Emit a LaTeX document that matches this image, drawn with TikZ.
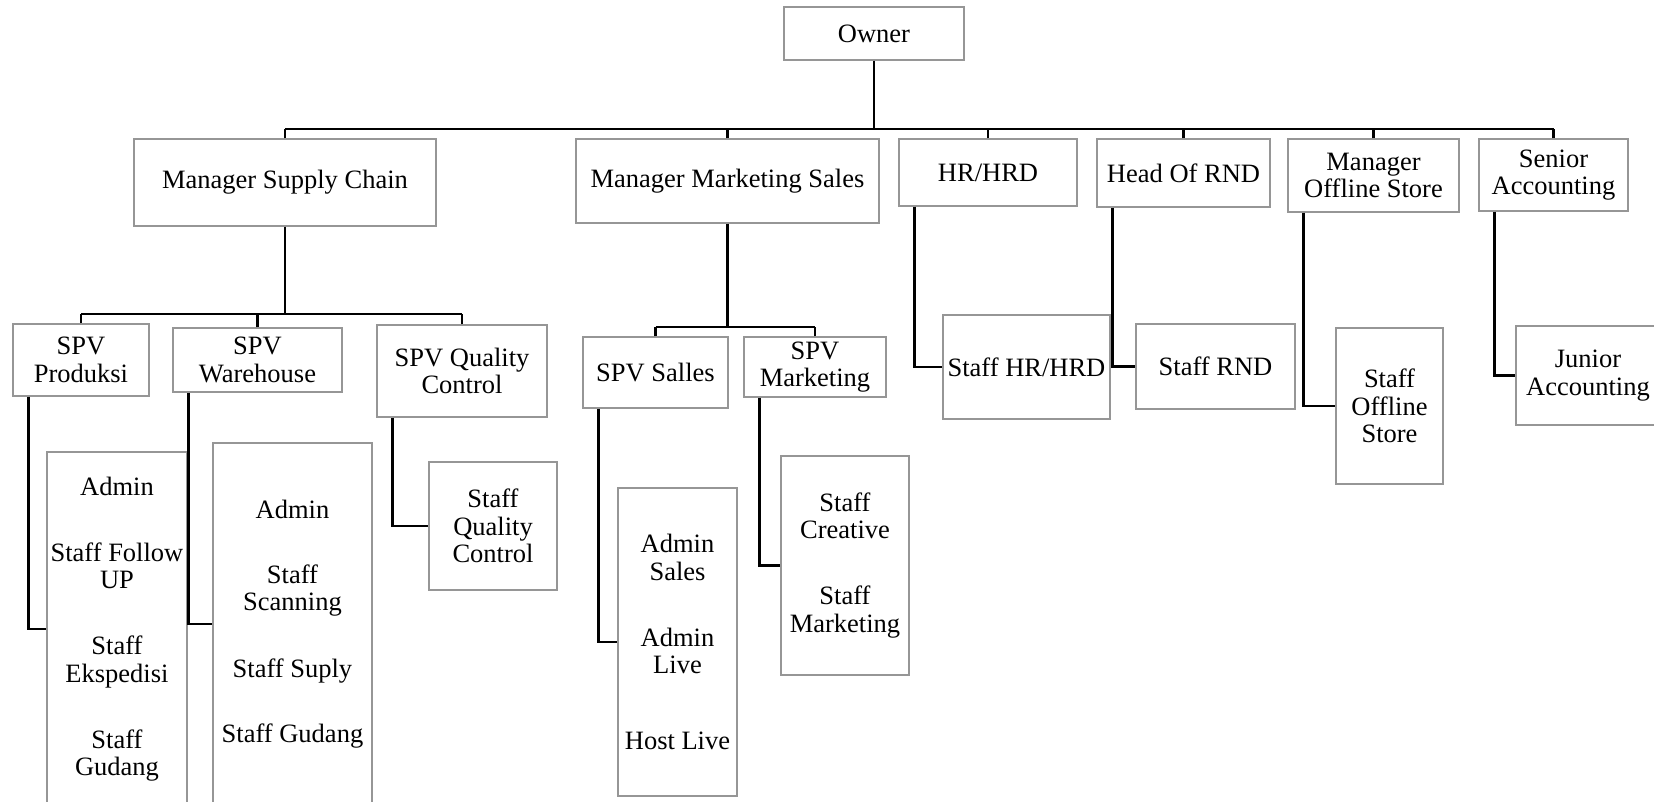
\documentclass[tikz,border=0pt]{standalone}
\usepackage{fontspec}
\setmainfont{Liberation Serif}
\usetikzlibrary{positioning}
\definecolor{boxgray}{RGB}{150,150,150}
\tikzset{
  unit/.style={draw=boxgray,line width=1.4pt,inner sep=0pt,align=center},
  sz/.style 2 args={minimum width=#1,minimum height=#2},
  link/.style={line width=2.6pt,line join=miter},
}

\begin{document}
\begin{tikzpicture}[x=1pt,y=-1pt,font=\fontsize{26.5}{27.5}\selectfont]
\useasboundingbox (0,0) rectangle (1654,802);
\path
(874,33.5)    node[unit,sz={180pt}{53pt}]  (own)  {Owner}
% managers
(285,182.5)   node[unit,sz={302pt}{87pt}]  (msc)  {Manager Supply Chain}
(727.5,181)   node[unit,sz={303pt}{84pt}]  (mms)  {Manager Marketing Sales}
(988,172.5)   node[unit,sz={178pt}{67pt}]  (hr)   {HR/HRD}
(1183.5,173)  node[unit,sz={173pt}{68pt}]  (rnd)  {Head Of RND}
(1373.5,175.5) node[unit,sz={171pt}{73pt}] (mos)  {Manager\\Offline Store}
(1553.5,175)  node[unit,sz={149pt}{72pt}]  (sacc) {Senior\\Accounting}
% supervisors
(81,360)      node[unit,sz={136pt}{72pt}]  (prod) {SPV\\Produksi}
(257.5,360)   node[unit,sz={169pt}{64pt}]  (wh)   {SPV\\Warehouse}
(462,371)     node[unit,sz={170pt}{92pt}]  (qc)   {SPV Quality\\Control}
(655.5,372.5) node[unit,sz={145pt}{71pt}]  (sal)  {SPV Salles}
(815,367)     node[unit,sz={142pt}{60pt}]  (mkt)  {SPV\\Marketing}
% staff
(117,629)     node[unit,sz={140pt}{354pt}] (lprod)
  {Admin\\[38.5pt]Staff Follow\\UP\\[38.5pt]Staff\\Ekspedisi\\[38.5pt]Staff\\Gudang}
(292.5,624)   node[unit,sz={159pt}{362pt}] (lwh)
  {Admin\\[37.5pt]Staff\\Scanning\\[39.5pt]Staff Suply\\[37.5pt]Staff Gudang}
(493,526)     node[unit,sz={128pt}{128pt}] (sqc)  {Staff\\Quality\\Control}
(677.5,642)   node[unit,sz={119pt}{308pt}] (lsal)
  {Admin\\Sales\\[38.5pt]Admin\\Live\\[48.5pt]Host Live}
(845,565.5)   node[unit,sz={128pt}{219pt}] (lmkt)
  {Staff\\Creative\\[38.5pt]Staff\\Marketing}
(1026.5,367)  node[unit,sz={167pt}{104pt}] (shr)  {Staff HR/HRD}
(1215.5,366.5) node[unit,sz={159pt}{85pt}] (srnd) {Staff RND}
(1389.5,406)  node[unit,sz={107pt}{156pt}] (smos) {Staff\\Offline\\Store}
(1588,375.5)  node[unit,sz={144pt}{99pt}]  (jacc) {Junior\\Accounting};

\coordinate (top)   at (874,129);
\coordinate (scbar) at (285,314);
\coordinate (msbar) at (727.5,327);

\draw[link] (own.south) -- (top);
\draw[link] (msc.north |- top) -- (sacc.north |- top);
\foreach \m in {msc,mms,hr,rnd,mos,sacc}
  \draw[link] (\m.north) -- (\m.north |- top);

\draw[link] (msc.south) -- (scbar);
\draw[link] (prod.north |- scbar) -- (qc.north |- scbar);
\foreach \s in {prod,wh,qc}
  \draw[link] (\s.north) -- (\s.north |- scbar);

\draw[link] (mms.south) -- (msbar);
\draw[link] (sal.north |- msbar) -- (mkt.north |- msbar);
\foreach \s in {sal,mkt}
  \draw[link] (\s.north) -- (\s.north |- msbar);

% down to the staff
\foreach \p/\c in {prod/lprod,wh/lwh,qc/sqc,sal/lsal,mkt/lmkt,hr/shr,rnd/srnd,mos/smos,sacc/jacc}
  \draw[link] ([xshift=16pt]\p.south west) |- (\c.west);
\end{tikzpicture}
\end{document}
